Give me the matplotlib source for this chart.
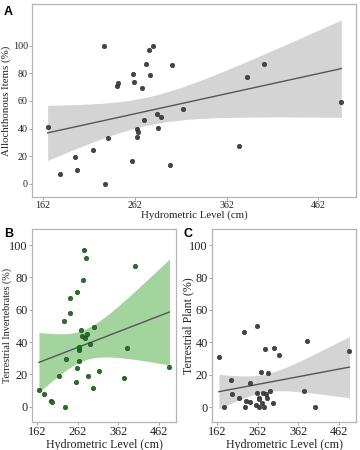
import numpy as np
import matplotlib
matplotlib.use("Agg")
import matplotlib.pyplot as plt

# Hydrometric level (cm) for each sample, shared by all panels
hydro_level = [167, 180, 197, 199, 217, 228, 230, 233, 243, 244, 259, 260, 261, 264, 264.5, 266,
               270, 272, 274, 278, 279, 282, 286, 287, 291, 300, 302, 315, 376, 384, 403, 487]

# Percent of diet items
allochthonous = [41.3, 7.5, 19.8, 10.4, 24.8, 99.4, 0, 33.1, 70.8, 73.0, 16.5, 79.5, 73.8, 33.8, 39.9, 37.2,
                 69.1, 46.4, 87.0, 97.1, 78.4, 100, 50.5, 40.3, 48.7, 13.9, 85.7, 54.0, 27.5, 77.0, 87.0, 59.1]
terr_invert = [10.1, 7.6, 3.3, 2.7, 19.2, 53.3, 0, 29.3, 67.4, 58.2, 15.1, 70.9, 24.0, 28.4, 34.8, 37.2,
               47.6, 43.9, 78.5, 97.1, 42.5, 91.8, 44.8, 19.2, 38.8, 11.6, 49.2, 21.9, 17.6, 36.4, 87.0, 24.4]
terr_plant = [31.2, 0, 16.5, 7.8, 5.6, 46.1, 0, 3.8, 3.4, 14.8, 1.4, 8.6, 49.8, 5.4, 5.1, 0,
              21.5, 2.5, 8.5, 0, 35.9, 8.2, 5.7, 21.1, 9.9, 2.3, 36.5, 32.1, 9.9, 40.6, 0, 34.7]

x_ticks = [162, 262, 362, 462]
y_ticks = [0, 20, 40, 60, 80, 100]

plt.rcParams['font.family'] = ['Liberation Serif', 'DejaVu Serif']

fig = plt.figure(figsize=(3.6, 4.5), dpi=100)
W, H = 360, 450


def add_ax(l, t, r, b):
    return fig.add_axes([l / W, 1 - b / H, (r - l) / W, (b - t) / H])


def lm_panel(ax, x, y, pt_color, band_color, ylabel, ylim, xfs, yfs, tfs):
    x = np.asarray(x, float)
    y = np.asarray(y, float)
    n = len(x)
    slope, icpt = np.polyfit(x, y, 1)
    resid = y - (slope * x + icpt)
    s = np.sqrt(np.sum(resid ** 2) / (n - 2))
    sxx = np.sum((x - x.mean()) ** 2)
    xg = np.linspace(x.min(), x.max(), 100)
    yg = slope * xg + icpt
    half = 2.042 * s * np.sqrt(1 / n + (xg - x.mean()) ** 2 / sxx)
    ax.fill_between(xg, yg - half, yg + half, color=band_color, lw=0, zorder=1)
    ax.plot(xg, yg, color='#555555', lw=1.0, zorder=2)
    ax.scatter(x, y, s=11, color=pt_color, edgecolors='#222222', linewidths=0.3, zorder=3)
    ax.set_xlim(150, 503)
    ax.set_ylim(*ylim)
    ax.set_xticks(x_ticks)
    ax.set_yticks(y_ticks)
    ax.set_xlabel('Hydrometric Level (cm)', fontsize=xfs, labelpad=0.5, color='#222222')
    ax.set_ylabel(ylabel, fontsize=yfs, labelpad=1, color='#222222')
    ax.tick_params(labelsize=tfs, length=2, width=0.6, color='#999999',
                   labelcolor='#222222', pad=1)
    for sp in ax.spines.values():
        sp.set_color('#b5b5b5')
        sp.set_linewidth(0.9)


axA = add_ax(32, 4, 356, 197)
lm_panel(axA, hydro_level, allochthonous, '#444444', '#d4d4d4',
         'Allochthonous Items (%)', (-9.4, 130), 7.8, 7.8, 7.2)

axB = add_ax(32, 229, 176, 422)
lm_panel(axB, hydro_level, terr_invert, '#187a18', '#a3d49e',
         'Terrestrial Invertebrates (%)', (-9.5, 110), 8.6, 7.3, 8.8)
axB.yaxis.set_label_coords(-0.14, 0.5)

axC = add_ax(212, 229, 356, 422)
lm_panel(axC, hydro_level, terr_plant, '#444444', '#d4d4d4',
         'Terrestrial Plant (%)', (-9.2, 110), 8.6, 8.6, 8.8)
axC.yaxis.set_label_coords(-0.12, 0.5)

for lab, px, py in [('A', 4, 12), ('B', 4, 234), ('C', 184, 234)]:
    fig.text(px / W, 1 - py / H, lab, fontsize=9, fontweight='bold',
             family=['Liberation Sans', 'DejaVu Sans'], va='center', ha='left')

fig.savefig('out.png', dpi=100)
